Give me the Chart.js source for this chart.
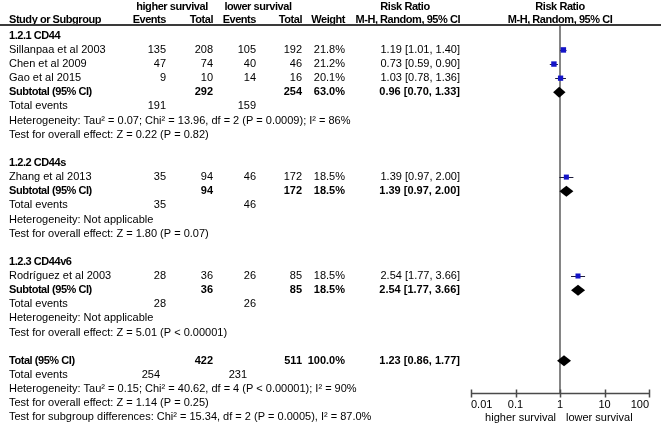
<!DOCTYPE html>
<html>
<head>
<meta charset="utf-8">
<script src="https://cdn.jsdelivr.net/npm/chart.js@4/dist/chart.umd.min.js"></script>
<style>
  html, body { margin: 0; padding: 0; background: #fff; }
  #wrap { width: 661px; height: 430px; position: relative; }
</style>
</head>
<body>
<div id="wrap"><canvas id="c" width="661" height="430"></canvas></div>
<script>
// ---------------- DATA ----------------
const groupNames = ["1.2.1 CD44", "1.2.2 CD44s", "1.2.3 CD44v6"];
const studies = ["Sillanpaa et al 2003", "Chen et al 2009", "Gao et al 2015", "Zhang et al 2013", "Rodríguez et al 2003"];
const studyGroup = [0, 0, 0, 1, 2];
const highEvents = [135, 47, 9, 35, 28];
const highTotal = [208, 74, 10, 94, 36];
const lowEvents = [105, 40, 14, 46, 26];
const lowTotal = [192, 46, 16, 172, 85];
const weights = [21.8, 21.2, 20.1, 18.5, 18.5];
const rr = [1.19, 0.73, 1.03, 1.39, 2.54];
const ciLow = [1.01, 0.59, 0.78, 0.97, 1.77];
const ciHigh = [1.40, 0.90, 1.36, 2.00, 3.66];

const subHighEvents = [191, 35, 28];
const subHighTotal = [292, 94, 36];
const subLowEvents = [159, 46, 26];
const subLowTotal = [254, 172, 85];
const subWeight = [63.0, 18.5, 18.5];
const subRR = [0.96, 1.39, 2.54];
const subLow = [0.70, 0.97, 1.77];
const subHigh = [1.33, 2.00, 3.66];
const subHet = [
  "Heterogeneity: Tau² = 0.07; Chi² = 13.96, df = 2 (P = 0.0009); I² = 86%",
  "Heterogeneity: Not applicable",
  "Heterogeneity: Not applicable"
];
const subTest = [
  "Test for overall effect: Z = 0.22 (P = 0.82)",
  "Test for overall effect: Z = 1.80 (P = 0.07)",
  "Test for overall effect: Z = 5.01 (P < 0.00001)"
];

const totalHighEvents = 254, totalLowEvents = 231;
const totalHighN = 422, totalLowN = 511, totalWeight = 100.0;
const totalRR = 1.23, totalLow = 0.86, totalHigh = 1.77;
const totalHet = "Heterogeneity: Tau² = 0.15; Chi² = 40.62, df = 4 (P < 0.00001); I² = 90%";
const totalTest = "Test for overall effect: Z = 1.14 (P = 0.25)";
const subgroupTest = "Test for subgroup differences: Chi² = 15.34, df = 2 (P = 0.0005), I² = 87.0%";

const tickValues = [0.01, 0.1, 1, 10, 100];
const tickLabels = ["0.01", "0.1", "1", "10", "100"];
const favourLeft = "higher survival";
const favourRight = "lower survival";

// ---------------- ROW LAYOUT (derived) ----------------
const studyRow = new Array(studies.length);
const groupRow = [], subRow = [], evRow = [], hetRow = [], testRow = [];
let r = 0;
groupNames.forEach((g, gi) => {
  groupRow[gi] = r++;
  studies.forEach((s, i) => { if (studyGroup[i] === gi) studyRow[i] = r++; });
  subRow[gi] = r++; evRow[gi] = r++; hetRow[gi] = r++; testRow[gi] = r++;
  r++;
});
const totRow = r, totEvRow = r + 1, totHetRow = r + 2, totTestRow = r + 3, sgRow = r + 4;

const fmt2 = v => v.toFixed(2);
const rrText = (e, l, h) => `${fmt2(e)} [${fmt2(l)}, ${fmt2(h)}]`;

const FONT = '"Liberation Sans", Arial, sans-serif';
const SZ = 11;

// ---------------- PLUGIN ----------------
const forestPlugin = {
  id: 'forest',
  beforeDatasetsDraw(chart) {
    const ctx = chart.ctx, xs = chart.scales.x, ys = chart.scales.y;
    ctx.save();
    const x1 = xs.getPixelForValue(1);
    ctx.strokeStyle = '#858585';
    ctx.lineWidth = 2;
    ctx.beginPath();
    ctx.moveTo(x1, chart.chartArea.top);
    ctx.lineTo(x1, chart.chartArea.bottom);
    ctx.stroke();
    ctx.strokeStyle = '#1c1c3a';
    ctx.lineWidth = 1;
    studies.forEach((s, i) => {
      const y = Math.round(ys.getPixelForValue(studyRow[i])) + 0.5;
      ctx.beginPath();
      ctx.moveTo(xs.getPixelForValue(ciLow[i]), y);
      ctx.lineTo(xs.getPixelForValue(ciHigh[i]), y);
      ctx.stroke();
    });
    ctx.restore();
  },
  afterDatasetsDraw(chart) {
    const ctx = chart.ctx, xs = chart.scales.x, ys = chart.scales.y;
    ctx.save();
    ctx.fillStyle = '#000';
    const diamond = (est, lo, hi, row) => {
      const y = ys.getPixelForValue(row);
      const xe = xs.getPixelForValue(est);
      ctx.beginPath();
      ctx.moveTo(xs.getPixelForValue(lo), y);
      ctx.lineTo(xe, y - 5.5);
      ctx.lineTo(xs.getPixelForValue(hi), y);
      ctx.lineTo(xe, y + 5.5);
      ctx.closePath();
      ctx.fill();
    };
    groupNames.forEach((g, gi) => diamond(subRR[gi], subLow[gi], subHigh[gi], subRow[gi]));
    diamond(totalRR, totalLow, totalHigh, totRow);
    ctx.restore();
  },
  afterDraw(chart) {
    const ctx = chart.ctx, xs = chart.scales.x, ys = chart.scales.y;
    const W = chart.width;
    const Y = row => ys.getPixelForValue(row);
    ctx.save();
    ctx.textBaseline = 'middle';
    ctx.fillStyle = '#000';
    // bold: 0 = regular, 1 = bold label (tightened), 2 = bold number
    const txt = (s, x, y, align, bold) => {
      ctx.font = (bold ? 'bold ' : '') + SZ + 'px ' + FONT;
      if ('letterSpacing' in ctx) ctx.letterSpacing = bold === 1 ? '-0.45px' : '0px';
      ctx.textAlign = align;
      ctx.fillText(s, x, y);
    };
    const X = { name: 9, hE: 166, hT: 213, lE: 256, lT: 302, w: 345, rr: 460 };

    const h1 = Y(-2.05), h2 = Y(-1.15);
    txt("higher survival", 172, h1, 'center', 1);
    txt("lower survival", 258, h1, 'center', 1);
    txt("Risk Ratio", 405, h1, 'center', 1);
    txt("Risk Ratio", xs.getPixelForValue(1), h1, 'center', 1);
    txt("Study or Subgroup", X.name, h2, 'left', 1);
    txt("Events", X.hE, h2, 'right', 1);
    txt("Total", X.hT, h2, 'right', 1);
    txt("Events", X.lE, h2, 'right', 1);
    txt("Total", X.lT, h2, 'right', 1);
    txt("Weight", X.w, h2, 'right', 1);
    txt("M-H, Random, 95% CI", X.rr, h2, 'right', 1);
    txt("M-H, Random, 95% CI", xs.getPixelForValue(1), h2, 'center', 1);

    ctx.strokeStyle = '#3a3a3a';
    ctx.lineWidth = 2;
    ctx.beginPath();
    ctx.moveTo(0, chart.chartArea.top);
    ctx.lineTo(W, chart.chartArea.top);
    ctx.stroke();

    groupNames.forEach((g, gi) => {
      txt(g, X.name, Y(groupRow[gi]), 'left', 1);
      studies.forEach((s, i) => {
        if (studyGroup[i] !== gi) return;
        const y = Y(studyRow[i]);
        txt(s, X.name, y, 'left', 0);
        txt(String(highEvents[i]), X.hE, y, 'right', 0);
        txt(String(highTotal[i]), X.hT, y, 'right', 0);
        txt(String(lowEvents[i]), X.lE, y, 'right', 0);
        txt(String(lowTotal[i]), X.lT, y, 'right', 0);
        txt(weights[i].toFixed(1) + '%', X.w, y, 'right', 0);
        txt(rrText(rr[i], ciLow[i], ciHigh[i]), X.rr, y, 'right', 0);
      });
      let y = Y(subRow[gi]);
      txt("Subtotal (95% CI)", X.name, y, 'left', 1);
      txt(String(subHighTotal[gi]), X.hT, y, 'right', 2);
      txt(String(subLowTotal[gi]), X.lT, y, 'right', 2);
      txt(subWeight[gi].toFixed(1) + '%', X.w, y, 'right', 2);
      txt(rrText(subRR[gi], subLow[gi], subHigh[gi]), X.rr, y, 'right', 2);
      y = Y(evRow[gi]);
      txt("Total events", X.name, y, 'left', 0);
      txt(String(subHighEvents[gi]), X.hE, y, 'right', 0);
      txt(String(subLowEvents[gi]), X.lE, y, 'right', 0);
      txt(subHet[gi], X.name, Y(hetRow[gi]), 'left', 0);
      txt(subTest[gi], X.name, Y(testRow[gi]), 'left', 0);
    });

    let y = Y(totRow);
    txt("Total (95% CI)", X.name, y, 'left', 1);
    txt(String(totalHighN), X.hT, y, 'right', 2);
    txt(String(totalLowN), X.lT, y, 'right', 2);
    txt(totalWeight.toFixed(1) + '%', X.w, y, 'right', 2);
    txt(rrText(totalRR, totalLow, totalHigh), X.rr, y, 'right', 2);
    y = Y(totEvRow);
    txt("Total events", X.name, y, 'left', 0);
    txt(String(totalHighEvents), X.hE - 6, y, 'right', 0);
    txt(String(totalLowEvents), X.lE - 9, y, 'right', 0);
    txt(totalHet, X.name, Y(totHetRow), 'left', 0);
    txt(totalTest, X.name, Y(totTestRow), 'left', 0);
    txt(subgroupTest, X.name, Y(sgRow), 'left', 0);

    const ay = chart.chartArea.bottom + 0.5;
    const xa = xs.getPixelForValue(tickValues[0]);
    const xb = xs.getPixelForValue(tickValues[tickValues.length - 1]);
    ctx.strokeStyle = '#4a4a4a';
    ctx.lineWidth = 1.5;
    ctx.beginPath();
    ctx.moveTo(xa, ay); ctx.lineTo(xb, ay);
    tickValues.forEach(v => {
      const tx = Math.round(xs.getPixelForValue(v)) + 0.5;
      ctx.moveTo(tx, ay - 4); ctx.lineTo(tx, ay + 4);
    });
    ctx.stroke();
    tickValues.forEach((v, i) => {
      const tx = xs.getPixelForValue(v);
      const al = i === 0 ? 'left' : (i === tickValues.length - 1 ? 'right' : 'center');
      txt(tickLabels[i], tx, ay + 11, al, 0);
    });
    const x1 = xs.getPixelForValue(1);
    txt(favourLeft, x1 - 4, ay + 24, 'right', 0);
    txt(favourRight, x1 + 6, ay + 24, 'left', 0);
    ctx.restore();
  }
};

// ---------------- CHART ----------------
const pointData = studies.map((s, i) => ({ x: rr[i], y: studyRow[i] }));
new Chart(document.getElementById('c'), {
  type: 'scatter',
  data: {
    datasets: [{
      label: 'Studies',
      data: pointData,
      pointStyle: 'rect',
      pointRadius: weights.map(w => 3.8 * Math.sqrt(w / 21)),
      pointHoverRadius: weights.map(w => 3.8 * Math.sqrt(w / 21)),
      backgroundColor: '#1414c8',
      borderColor: '#1414c8',
      borderWidth: 0
    }]
  },
  options: {
    responsive: false,
    animation: false,
    events: [],
    layout: { padding: { left: 471, right: 12, top: 25, bottom: 37 } },
    plugins: { legend: { display: false }, tooltip: { enabled: false } },
    scales: {
      x: { type: 'logarithmic', min: 0.01, max: 100, display: false },
      y: { type: 'linear', min: -0.764, max: 25.28, reverse: true, display: false }
    }
  },
  plugins: [forestPlugin]
});
</script>
</body>
</html>
